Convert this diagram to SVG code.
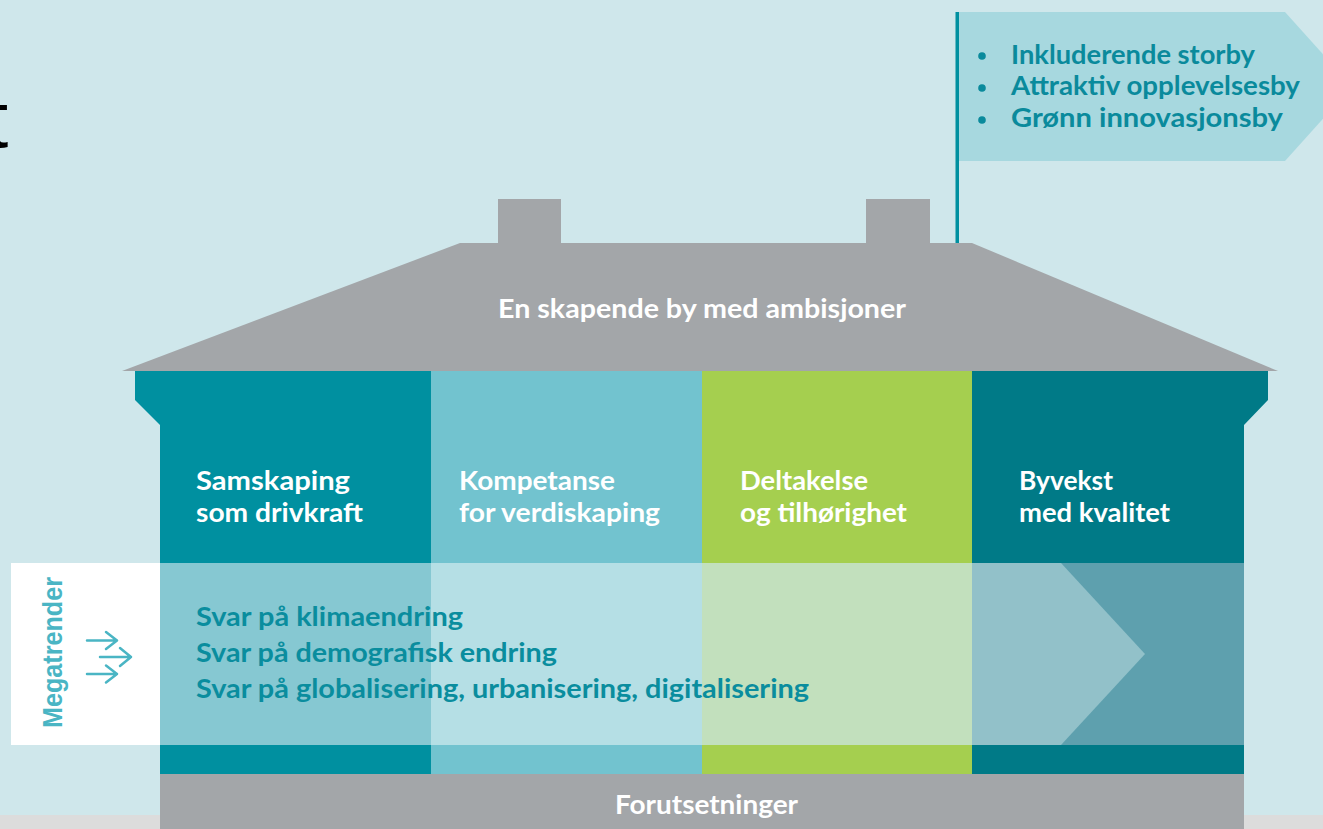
<svg xmlns="http://www.w3.org/2000/svg" width="1323" height="829" viewBox="0 0 1323 829">
<style>
.b{font-family:Lato,"Liberation Sans",Arial,sans-serif;font-weight:700}
.w{fill:#ffffff}
.t{fill:#0a8d9e}
.ft{fill:#0a8a9c}
.col{font-size:27px}
.mt{font-size:27px}
.fl{font-size:27px}
</style>
<rect x="0" y="0" width="1323" height="829" fill="#cfe7eb"/>
<rect x="0" y="815" width="1323" height="14" fill="#dcdcdc"/>
<text x="-14" y="147" font-family="'Liberation Sans',Arial,sans-serif" font-size="80" fill="#000000">t</text>

<g id="flag">
<rect x="955.5" y="12" width="3.5" height="232" fill="#0090a0"/>
<polygon points="959,12 1285,12 1352,86.5 1285,161 959,161" fill="#a7d8df"/>
<g class="ft">
<circle cx="982" cy="56" r="3.8"/>
<circle cx="982" cy="88" r="3.8"/>
<circle cx="982" cy="120" r="3.8"/>
</g>
<text class="b ft fl" x="1011" y="64" textLength="244" lengthAdjust="spacingAndGlyphs">Inkluderende storby</text>
<text class="b ft fl" x="1011" y="95" textLength="289" lengthAdjust="spacingAndGlyphs">Attraktiv opplevelsesby</text>
<text class="b ft fl" x="1011" y="127" textLength="272" lengthAdjust="spacingAndGlyphs">Grønn innovasjonsby</text>
</g>

<g id="roof">
<rect x="498" y="199" width="63" height="46" fill="#a3a6a9"/>
<rect x="866" y="199" width="64" height="46" fill="#a3a6a9"/>
<polygon points="122,371 460,243 972,243 1278,371" fill="#a3a6a9"/>
<text class="b w" x="498" y="318" font-size="27" textLength="408" lengthAdjust="spacingAndGlyphs">En skapende by med ambisjoner</text>
</g>

<g id="col1">
<polygon points="135,371 431,371 431,774 160,774 160,425 135,400" fill="#0090a0"/>
<text class="b w col" x="196" y="490" textLength="154" lengthAdjust="spacingAndGlyphs">Samskaping</text>
<text class="b w col" x="196" y="522" textLength="167" lengthAdjust="spacingAndGlyphs">som drivkraft</text>
</g>
<g id="col2">
<rect x="431" y="371" width="271" height="403" fill="#72c3cf"/>
<text class="b w col" x="459" y="490" textLength="156" lengthAdjust="spacingAndGlyphs">Kompetanse</text>
<text class="b w col" x="459" y="522" textLength="201" lengthAdjust="spacingAndGlyphs">for verdiskaping</text>
</g>
<g id="col3">
<rect x="702" y="371" width="270" height="403" fill="#a5cf4f"/>
<text class="b w col" x="740" y="490" textLength="128" lengthAdjust="spacingAndGlyphs">Deltakelse</text>
<text class="b w col" x="740" y="522" textLength="167" lengthAdjust="spacingAndGlyphs">og tilhørighet</text>
</g>
<g id="col4">
<polygon points="972,371 1268,371 1268,400 1244,425 1244,774 972,774" fill="#007a87"/>
<text class="b w col" x="1019" y="490" textLength="94" lengthAdjust="spacingAndGlyphs">Byvekst</text>
<text class="b w col" x="1019" y="522" textLength="151" lengthAdjust="spacingAndGlyphs">med kvalitet</text>
</g>

<g id="megatrender">
<rect x="11" y="563" width="149" height="182" fill="#ffffff"/>
<rect x="160" y="563" width="271" height="182" fill="#86c8d2"/>
<rect x="431" y="563" width="271" height="182" fill="#b5dfe5"/>
<rect x="702" y="563" width="270" height="182" fill="#c2e0bd"/>
<rect x="972" y="563" width="272" height="182" fill="#5ea0ae"/>
<polygon points="972,563 1061,563 1145,654 1061,745 972,745" fill="#92c1c9"/>
<text x="62" y="728" transform="rotate(-90 62 728)" font-family="'Liberation Sans',Arial,sans-serif" font-weight="700" font-size="28" fill="#4ab5c4" textLength="151" lengthAdjust="spacingAndGlyphs">Megatrender</text>
<g fill="none" stroke="#4ab5c4" stroke-width="2.5" stroke-linecap="round" stroke-linejoin="round">
<path d="M87,640.5 H117 M106,632 L117,640.5 L106,649"/>
<path d="M100,657 H131 M120,648 L131,657 L120,666"/>
<path d="M87,674 H117 M106,665.5 L117,674 L106,682.5"/>
</g>
<text class="b t mt" x="196" y="626" textLength="267" lengthAdjust="spacingAndGlyphs">Svar på klimaendring</text>
<text class="b t mt" x="196" y="662" textLength="361" lengthAdjust="spacingAndGlyphs">Svar på demografisk endring</text>
<text class="b t mt" x="196" y="698" textLength="613" lengthAdjust="spacingAndGlyphs">Svar på globalisering, urbanisering, digitalisering</text>
</g>

<g id="forutsetninger">
<rect x="160" y="774" width="1084" height="55" fill="#a3a6a9"/>
<text class="b w" x="615" y="814" font-size="26" textLength="183" lengthAdjust="spacingAndGlyphs">Forutsetninger</text>
</g>
<g id="connectors"/>
</svg>
